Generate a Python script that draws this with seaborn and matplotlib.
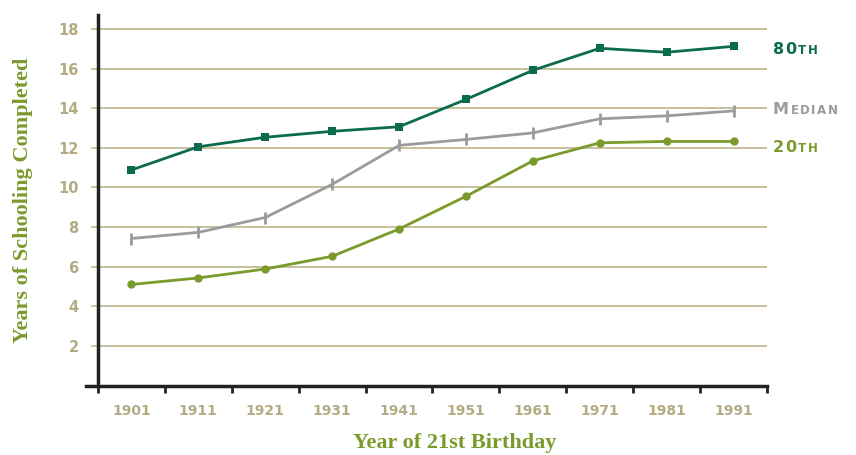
import numpy as np
import pandas as pd
import matplotlib
matplotlib.use("Agg")
import matplotlib.pyplot as plt
import seaborn as sns

# Years of schooling completed, by year of 21st birthday
years = ["1901", "1911", "1921", "1931", "1941", "1951", "1961", "1971", "1981", "1991"]
p80 = [10.88, 12.05, 12.53, 12.83, 13.06, 14.44, 15.91, 17.02, 16.82, 17.12]
median = [7.42, 7.73, 8.48, 10.15, 12.12, 12.42, 12.75, 13.46, 13.61, 13.86]
p20 = [5.10, 5.43, 5.88, 6.52, 7.90, 9.55, 11.34, 12.25, 12.32, 12.32]
series_names = ["80th", "Median", "20th"]
y_ticks = [2, 4, 6, 8, 10, 12, 14, 16, 18]

C80 = "#0b6b4c"
CMED = "#9b9b9d"
C20 = "#7b9a2c"
KHAKI = "#b3ab84"
GRID = "#c2bb95"

sns.set_theme(style="white")
plt.rcParams["font.family"] = ["DejaVu Sans"]

rows = []
for name, vals in zip(series_names, [p80, median, p20]):
    for i, (yr, v) in enumerate(zip(years, vals)):
        rows.append({"pos": i, "year": yr, "value": v, "series": name})
df = pd.DataFrame(rows)

W, H = 856, 455
fig = plt.figure(figsize=(W / 100, H / 100), dpi=100)
ax = fig.add_axes([0.1145, 0.1527, 0.7815, 0.8143])

styles = {
    "80th": dict(color=C80, marker="s", markersize=6, markeredgewidth=0),
    "Median": dict(color=CMED, marker="|", markersize=8, markeredgewidth=2,
                   markeredgecolor=CMED),
    "20th": dict(color=C20, marker="o", markersize=6, markeredgewidth=0),
}
for name in series_names:
    sub = df[df["series"] == name]
    sns.lineplot(data=sub, x="pos", y="value", linewidth=2, legend=False,
                 ax=ax, zorder=3, **styles[name])

ax.set_xlim(-0.5, 9.5)
ax.set_ylim(0, 18.7)

# gridlines at each labelled value
for v in y_ticks:
    ax.axhline(v, color=GRID, lw=1.3, zorder=1)

ax.set_yticks(y_ticks)
ax.set_yticklabels([str(v) for v in y_ticks], fontweight="bold",
                   family=["DejaVu Sans"])
ax.tick_params(axis="y", direction="out", length=5, width=1.2, color=GRID,
               labelcolor=KHAKI, labelsize=10.5, pad=9, left=True)

# x ticks on category boundaries, labels centred between them
ax.set_xticks(np.arange(-0.5, 10, 1.0))
ax.set_xticklabels([])
ax.set_xticks(np.arange(len(years)), minor=True)
ax.set_xticklabels(years, minor=True, fontweight="bold", family=["DejaVu Sans"])
ax.tick_params(axis="x", which="major", direction="out", length=5, width=2,
               color="#222222", bottom=True)
ax.tick_params(axis="x", which="minor", length=0, labelcolor=KHAKI,
               labelsize=10, pad=13)

for s in ["top", "right"]:
    ax.spines[s].set_visible(False)
for s in ["left", "bottom"]:
    ax.spines[s].set_color("#222222")
    ax.spines[s].set_linewidth(2.5)
ax.spines["bottom"].set_bounds(-0.68, 9.5)
ax.set_xlabel("")
ax.set_ylabel("")

fig.text(0.027, 0.56, "Years of Schooling Completed", rotation=90,
         ha="center", va="center", color=C20, fontsize=16,
         fontweight="bold", family=["Liberation Serif"])
fig.text(0.531, 0.026, "Year of 21st Birthday", ha="center", va="center",
         color=C20, fontsize=16, fontweight="bold", family=["Liberation Serif"])

# small-caps style end labels, letter-spaced
fig.canvas.draw()
renderer = fig.canvas.get_renderer()


def spaced(x_px, y_px, text, color, size, track=1.5):
    for ch in text:
        t = fig.text(x_px / W, 1 - y_px / H, ch, color=color, fontsize=size,
                     fontweight="bold", ha="left", va="baseline")
        bb = t.get_window_extent(renderer)
        x_px = bb.x1 + track
    return x_px


def small_caps(x_px, y_px, big, small, color):
    x_px = spaced(x_px, y_px, big, color, 11.5)
    spaced(x_px, y_px, small, color, 8.5)


small_caps(773, 54, "80", "TH", C80)
small_caps(773, 114, "M", "EDIAN", CMED)
small_caps(773, 152, "20", "TH", C20)

fig.savefig("out.png", dpi=100)
